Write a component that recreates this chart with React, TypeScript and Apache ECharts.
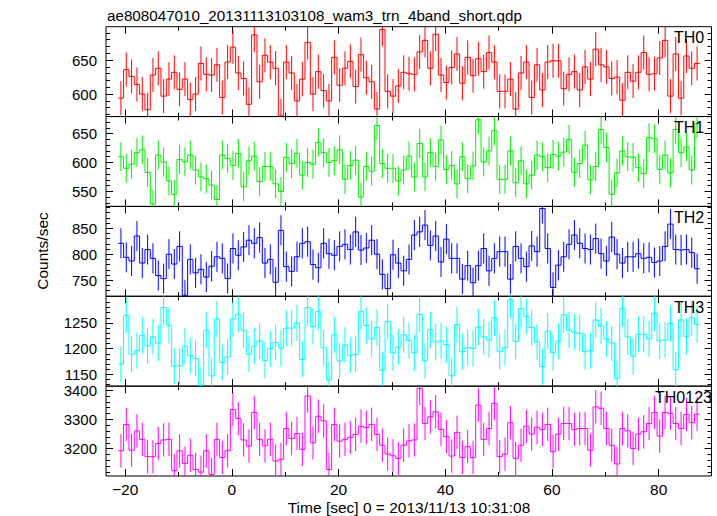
import React, { useEffect, useRef } from "react";
import * as echarts from "echarts";

const TITLE = "ae808047010_20131113103108_wam3_trn_4band_short.qdp";
const X_TITLE = "Time [sec] 0 = 2013/11/13 10:31:08";
const Y_TITLE = "Counts/sec";

const TIME_START = -20.8;
const BIN_WIDTH = 1;

const TH0 = [594, 636, 626, 614, 600, 577, 628, 638, 597, 622, 632, 607, 622, 592, 600, 645, 629, 628, 643, 595, 647, 669, 631, 623, 585, 687, 618, 657, 647, 638, 568, 647, 631, 590, 622, 676, 600, 633, 605, 590, 654, 613, 638, 648, 611, 658, 624, 618, 578, 695, 604, 597, 612, 632, 630,
  629, 662, 679, 638, 688, 628, 617, 639, 659, 616, 654, 627, 652, 633, 661, 647, 604, 604, 622, 578, 631, 647, 595, 643, 606, 647, 649, 649, 608, 629, 633, 606, 640, 622, 666, 643, 640, 623, 625, 591, 632, 619, 632, 661, 629, 630, 653, 679, 597, 659, 594, 656, 638, 645];
const TH1 = [610, 590, 597, 617, 622, 583, 528, 613, 601, 568, 545, 605, 601, 613, 587, 575, 572, 561, 536, 613, 607, 595, 616, 558, 603, 611, 567, 593, 593, 563, 550, 609, 598, 616, 578, 600, 597, 635, 617, 600, 603, 622, 571, 595, 604, 540, 593, 585, 664, 598, 590, 590, 568, 587, 611,
  575, 633, 575, 617, 593, 639, 588, 595, 563, 610, 572, 594, 674, 601, 620, 655, 571, 571, 620, 565, 603, 563, 578, 613, 610, 591, 614, 611, 618, 640, 583, 598, 630, 570, 593, 657, 626, 545, 582, 620, 610, 609, 591, 581, 643, 641, 588, 613, 582, 657, 617, 627, 587, 667];
const TH2 = [821, 794, 787, 835, 783, 809, 792, 759, 753, 800, 781, 815, 721, 790, 764, 771, 756, 777, 795, 792, 753, 811, 798, 814, 827, 821, 832, 783, 790, 746, 846, 776, 767, 795, 821, 824, 780, 774, 821, 801, 798, 815, 819, 809, 843, 808, 812, 827, 800, 761, 734, 799, 783, 768, 790,
  837, 843, 856, 817, 835, 785, 829, 792, 792, 752, 778, 745, 778, 811, 768, 792, 805, 805, 752, 815, 792, 776, 816, 805, 888, 811, 736, 779, 795, 819, 837, 821, 811, 809, 830, 801, 787, 833, 800, 783, 795, 795, 801, 792, 794, 784, 787, 815, 858, 809, 808, 809, 803, 772];
const TH3 = [1170, 1265, 1189, 1196, 1226, 1205, 1223, 1211, 1280, 1245, 1166, 1166, 1205, 1186, 1181, 1129, 1236, 1147, 1258, 1173, 1184, 1258, 1267, 1236, 1189, 1205, 1215, 1177, 1200, 1212, 1201, 1240, 1240, 1250, 1179, 1280, 1243, 1272, 1202, 1139, 1227, 1176, 1207, 1187, 1189, 1272, 1245, 1219, 1241, 1158, 1253, 1192, 1203, 1227, 1216,
  1192, 1267, 1176, 1237, 1213, 1215, 1208, 1147, 1247, 1194, 1202, 1200, 1242, 1223, 1217, 1260, 1194, 1202, 1295, 1214, 1278, 1263, 1241, 1213, 1165, 1234, 1192, 1215, 1266, 1236, 1232, 1230, 1194, 1196, 1256, 1244, 1219, 1211, 1142, 1278, 1223, 1185, 1228, 1228, 1219, 1269, 1215, 1217, 1249, 1159, 1256, 1224, 1260, 1247];
const TH0123 = [3193, 3283, 3195, 3261, 3232, 3173, 3173, 3218, 3230, 3232, 3125, 3193, 3150, 3178, 3129, 3120, 3193, 3112, 3232, 3170, 3193, 3334, 3303, 3230, 3209, 3324, 3232, 3210, 3232, 3158, 3164, 3269, 3235, 3252, 3198, 3380, 3220, 3311, 3295, 3129, 3283, 3226, 3232, 3239, 3249, 3277, 3272, 3283, 3249, 3212, 3182, 3176, 3167, 3212, 3227,
  3230, 3406, 3286, 3309, 3326, 3266, 3241, 3175, 3256, 3170, 3207, 3170, 3349, 3232, 3269, 3355, 3173, 3182, 3289, 3167, 3212, 3277, 3250, 3273, 3266, 3283, 3190, 3250, 3286, 3286, 3266, 3269, 3269, 3195, 3343, 3338, 3269, 3212, 3148, 3269, 3261, 3201, 3250, 3258, 3286, 3324, 3243, 3324, 3321, 3286, 3269, 3317, 3289, 3318];

const BANDS = ["TH0", "TH1", "TH2", "TH3", "TH0123"];
const BAND_VALUES = [TH0, TH1, TH2, TH3, TH0123];
const BAND_ERRORS = [25, 25, 29, 35, 57];
const BAND_COLORS = ["#ff0000", "#00ee00", "#0000ff", "#00ffff", "#ff00ff"];

const X_MIN = -23.6;
const X_MAX = 89.9;
const X_MAJOR = [-20, 0, 20, 40, 60, 80];
const X_MINOR = [-10, 10, 30, 50, 70];

const Y_MIN = [567, 524, 719, 1127, 3107];
const Y_MAX = [699, 679.5, 892, 1302, 3413.6];
const Y_MAJOR = [[600, 650], [550, 600, 650], [750, 800, 850], [1150, 1200, 1250], [3200, 3300, 3400]];
const Y_MINOR_STEP = [10, 10, 10, 10, 20];

const FONT = "'Liberation Sans', Arial, Helvetica, sans-serif";
const GRID_LEFT = 106;
const GRID_RIGHT = 711.5;
const GRID_TOP = 26.7;
const PANEL_H = 89.86;
const LABEL_X = [674, 674, 674, 674, 655];

function minorTicks(i: number): number[] {
  const out: number[] = [];
  const step = Y_MINOR_STEP[i];
  const start = Math.ceil(Y_MIN[i] / step) * step;
  for (let v = start; v <= Y_MAX[i]; v += step) {
    if (Y_MAJOR[i].includes(v)) continue;
    if (step === 10 && v % 50 === 0) continue;
    out.push(v);
  }
  return out;
}

const fmtX = (v: number) => (v < 0 ? "\u2212" + Math.abs(v) : String(v));
const fmtY = (v: number) => String(v);

function makeX(grid: number, position: string, ticks: number[], len: number, labels: boolean) {
  return {
    type: "value", gridIndex: grid, min: X_MIN, max: X_MAX, position,
    axisLine: { show: false, onZero: false },
    splitLine: { show: false },
    axisTick: { show: true, inside: true, length: len, customValues: ticks, lineStyle: { color: "#000", width: 1 } },
    axisLabel: { show: labels, customValues: ticks, formatter: fmtX, fontSize: 15.5, color: "#000", fontFamily: FONT, margin: 5 },
  };
}

function makeY(grid: number, position: string, ticks: number[], len: number, labels: boolean) {
  return {
    type: "value", gridIndex: grid, min: Y_MIN[grid], max: Y_MAX[grid], position,
    axisLine: { show: false, onZero: false },
    splitLine: { show: false },
    axisTick: { show: true, inside: true, length: len, customValues: ticks, lineStyle: { color: "#000", width: 1 } },
    axisLabel: { show: labels, customValues: ticks, formatter: fmtY, fontSize: 15, color: "#000", fontFamily: FONT, margin: 9 },
  };
}

function makeRender(color: string) {
  return (params: any, api: any) => {
    const t = api.value(0), v = api.value(1), vn = api.value(2), e = api.value(3);
    const a = api.coord([t - BIN_WIDTH / 2, v]);
    const b = api.coord([t + BIN_WIDTH / 2, v]);
    const c = api.coord([t + BIN_WIDTH / 2, vn]);
    const up = api.coord([t, v + e]);
    const dn = api.coord([t, v - e]);
    const st = { stroke: color, lineWidth: 1, fill: null };
    return {
      type: "group",
      children: [
        { type: "line", shape: { x1: a[0], y1: a[1], x2: b[0], y2: b[1] }, style: st },
        { type: "line", shape: { x1: b[0], y1: b[1], x2: c[0], y2: c[1] }, style: st },
        { type: "line", shape: { x1: up[0], y1: up[1], x2: dn[0], y2: dn[1] }, style: st },
      ],
    };
  };
}

export default function App() {
  const ref = useRef<HTMLDivElement>(null);
  useEffect(() => {
    if (!ref.current) return;
    const chart = echarts.init(ref.current, undefined, { renderer: "svg" });
    const grids: any[] = [];
    const xAxes: any[] = [];
    const yAxes: any[] = [];
    const series: any[] = [];
    const graphics: any[] = [];
    BANDS.forEach((name, i) => {
      const top = GRID_TOP + i * PANEL_H;
      grids.push({
        left: GRID_LEFT, top, width: GRID_RIGHT - GRID_LEFT, height: PANEL_H,
        show: true, borderColor: "#000", borderWidth: 1, backgroundColor: "transparent",
      });
      xAxes.push(makeX(i, "bottom", X_MAJOR, 7, i === BANDS.length - 1));
      xAxes.push(makeX(i, "bottom", X_MINOR, 4, false));
      xAxes.push(makeX(i, "top", X_MAJOR, 7, false));
      xAxes.push(makeX(i, "top", X_MINOR, 4, false));
      const minors = minorTicks(i);
      yAxes.push(makeY(i, "left", Y_MAJOR[i], 7, true));
      yAxes.push(makeY(i, "left", minors, 4, false));
      yAxes.push(makeY(i, "right", Y_MAJOR[i], 7, false));
      yAxes.push(makeY(i, "right", minors, 4, false));
      const vals = BAND_VALUES[i];
      const data = vals.map((v, k) => [
        TIME_START + k * BIN_WIDTH,
        v,
        k < vals.length - 1 ? vals[k + 1] : v,
        BAND_ERRORS[i],
      ]);
      series.push({
        type: "custom", name, xAxisIndex: i * 4, yAxisIndex: i * 4,
        data, encode: { x: 0, y: 1 }, clip: true,
        renderItem: makeRender(BAND_COLORS[i]),
      });
      graphics.push({
        type: "text", x: LABEL_X[i], y: top + 11, z: 100,
        style: { text: name, fontSize: 16, fontFamily: FONT, fill: "#000", align: "left", verticalAlign: "middle" },
      });
    });
    graphics.push({
      type: "text", x: 107, y: 15,
      style: { text: TITLE, fontSize: 15.2, fontFamily: FONT, fill: "#000", align: "left", verticalAlign: "middle" },
    });
    graphics.push({
      type: "text", x: 409, y: 507,
      style: { text: X_TITLE, fontSize: 15.5, fontFamily: FONT, fill: "#000", align: "center", verticalAlign: "middle" },
    });
    graphics.push({
      type: "text", x: 42, y: 251, rotation: Math.PI / 2,
      style: { text: Y_TITLE, fontSize: 15.5, fontFamily: FONT, fill: "#000", align: "center", verticalAlign: "middle" },
    });
    chart.setOption({
      animation: false,
      backgroundColor: "#ffffff",
      textStyle: { fontFamily: FONT },
      grid: grids,
      xAxis: xAxes,
      yAxis: yAxes,
      series,
      graphic: graphics,
    });
    return () => chart.dispose();
  }, []);
  return (
    <div
      ref={ref}
      style={{ position: "fixed", left: 0, top: 0, width: 717, height: 516, background: "#fff" }}
    />
  );
}
